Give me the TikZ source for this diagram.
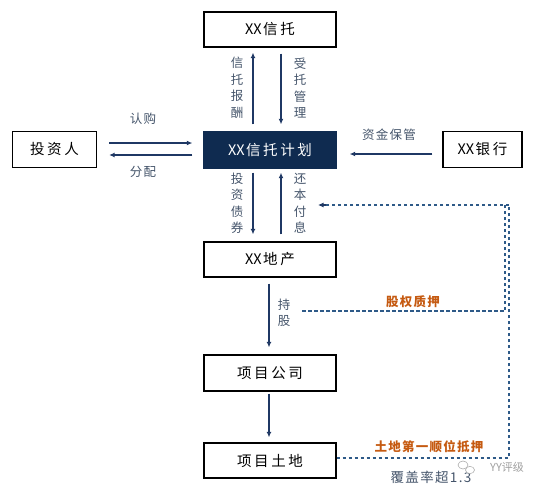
\documentclass[tikz,border=0pt]{standalone}
\usepackage{fontspec}
\newfontfamily\cjk{Noto Sans CJK SC}
\newfontfamily\cjkbox[LetterSpace=18]{Noto Sans CJK SC}
\newfontfamily\cjklab[LetterSpace=10]{Noto Sans CJK SC}
\newcommand{\xxtag}{{\cjk XX}\hspace{1.5pt}}
\usetikzlibrary{arrows.meta}
\definecolor{navy}{HTML}{0F2B50}
\definecolor{arrowc}{HTML}{1F3864}
\definecolor{labc}{HTML}{44546A}
\definecolor{orangec}{HTML}{C55A11}
\definecolor{dashc}{HTML}{2E5A88}
\begin{document}
\begin{tikzpicture}[x=1pt,y=-1pt,
  box/.style={draw=black, line width=1.3pt, fill=white, inner sep=0pt, font=\cjkbox\fontsize{14.5}{16}\selectfont},
  arr/.style={draw=arrowc, line width=1.3pt, -{Latex[length=5.5pt,width=5pt]}},
  lab/.style={text=labc, font=\cjk\fontsize{12.5}{16.5}\selectfont, align=center, inner sep=0pt},
  hlab/.style={text=labc, font=\cjklab\fontsize{12.5}{14}\selectfont, inner sep=0pt},
  olab/.style={text=orangec, font=\cjklab\bfseries\fontsize{12.5}{14}\selectfont, inner sep=0pt},
  dline/.style={draw=dashc, line width=1.2pt, dash pattern=on 3.5pt off 2.5pt}]
\useasboundingbox (0,0) rectangle (542,493);
% boxes
\node[box, minimum width=132pt, minimum height=35pt] (trust) at (270,29.5) {\xxtag 信托};
\node[draw=navy, fill=navy, text=white, inner sep=0pt, minimum width=133pt, minimum height=37pt, font=\cjkbox\fontsize{14.5}{16}\selectfont] (plan) at (270,150) {\xxtag 信托计划};
\node[box, minimum width=84pt, minimum height=36pt] (inv) at (54.5,149.5) {投资人};
\node[box, minimum width=79pt, minimum height=36pt] (bank) at (482.5,149.5) {\xxtag 银行};
\node[box, minimum width=132pt, minimum height=35pt] (dev) at (270,259.5) {\xxtag 地产};
\node[box, minimum width=132pt, minimum height=36pt] (comp) at (270,373) {项目公司};
\node[box, minimum width=132pt, minimum height=35pt] (land) at (270,460.5) {项目土地};
% vertical arrows between trust and plan
\draw[arr, shorten <=7pt, shorten >=5pt] (plan.north -| 253,0) -- (trust.south -| 253,0);
\draw[arr, shorten <=6pt, shorten >=7pt] (trust.south -| 281,0) -- (plan.north -| 281,0);
\draw[arr, shorten <=4pt, shorten >=7pt] (plan.south -| 253,0) -- (dev.north -| 253,0);
\draw[arr, shorten <=7pt, shorten >=4pt] (dev.north -| 281,0) -- (plan.south -| 281,0);
% horizontal arrows
\draw[arr, shorten <=12pt, shorten >=11pt] (inv.east |- 0,143) -- (plan.west |- 0,143);
\draw[arr, shorten <=11pt, shorten >=12pt] (plan.west |- 0,155) -- (inv.east |- 0,155);
\draw[arr, shorten <=10pt, shorten >=13pt] (bank.west |- 0,154) -- (plan.east |- 0,154);
% lower chain
\draw[arr, shorten <=6pt, shorten >=7pt] (dev.south -| 269,0) -- (comp.north -| 269,0);
\draw[arr, shorten <=2pt, shorten >=5pt] (comp.south -| 269,0) -- (land.north -| 269,0);
% labels
\node[lab] (l1) at (237,88) {信\\托\\报\\酬};
\node[lab] (l2) at (300,88) {受\\托\\管\\理};
\node[lab] (l3) at (237,203) {投\\资\\债\\券};
\node[lab] (l4) at (300,203) {还\\本\\付\\息};
\node[lab] (l5) at (284,313) {持\\股};
\node[hlab] (l6) at (143,119) {认购};
\node[hlab] (l7) at (143,172) {分配};
\node[hlab] (l8) at (389,135) {资金保管};
% dashed links
\coordinate (p0) at (302,311);
\coordinate (p1) at (505,311);
\coordinate (p2) at (505,205);
\coordinate (q1) at (509,458);
\coordinate (q2) at (509,205);
\coordinate (tip) at (318,205);
\draw[dline] (p0) -- (p1) -- (p2);
\draw[dline] (land.east |- q1) -- (q1) -- (q2);
\draw[dline] (q2) -- (tip);
\draw[draw=arrowc, line width=1.3pt, -{Latex[length=5.5pt,width=5pt]}] (326,205) -- (tip);
\node[olab] (o1) at (413,302) {股权质押};
\node[olab] (o2) at (429,447) {土地第一顺位抵押};
\node[text=labc, font=\cjklab\fontsize{13.5}{15}\selectfont, inner sep=0pt] (cov) at (431,477) {覆盖率超1.3};
% watermark
\draw[gray!70, line width=0.5pt] (463,465) ellipse (5pt and 4pt);
\draw[gray!70, line width=0.5pt, fill=white] (470,470) ellipse (4.5pt and 3.6pt);
\node[text=gray!75, font=\cjk\fontsize{11}{13}\selectfont, inner sep=0pt] (wm) at (507,467) {YY评级};
\end{tikzpicture}
\end{document}
